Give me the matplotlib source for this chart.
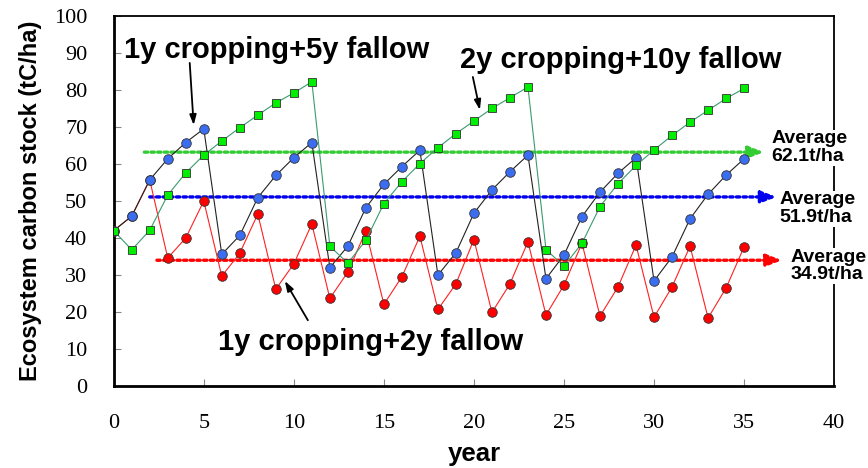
import matplotlib
matplotlib.use("Agg")
import matplotlib.pyplot as plt
import numpy as np

years = list(range(0, 36))

# 2y cropping + 10y fallow (green squares)
green_vals = [42.0, 36.8, 42.1, 51.6, 57.6, 62.4, 66.2, 69.8, 73.2, 76.5, 79.2, 82.2,
              37.8, 33.2, 39.4, 49.3, 55.2, 60.1, 64.4, 68.2, 71.6, 75.0, 77.9, 80.8,
              36.9, 32.4, 38.6, 48.5, 54.7, 59.6, 63.8, 67.7, 71.3, 74.5, 77.7, 80.4]

# 1y cropping + 5y fallow (blue circles)
blue_vals = [42.0, 45.9, 55.7, 61.4, 65.8, 69.5, 35.6, 40.7, 50.9, 56.9, 61.7, 65.8,
             32.0, 37.8, 48.2, 54.5, 59.3, 63.7, 30.0, 36.0, 46.7, 53.0, 57.9, 62.4,
             29.0, 35.4, 45.8, 52.4, 57.5, 61.7, 28.4, 34.9, 45.2, 51.8, 57.0, 61.4]

# 1y cropping + 2y fallow (red circles)
red_vals = [42.0, 45.9, 55.7, 34.6, 40.0, 50.0, 29.7, 35.9, 46.5, 26.2, 33.0, 43.8,
            23.7, 30.8, 41.9, 22.1, 29.5, 40.5, 20.7, 27.6, 39.6, 19.9, 27.6, 39.0,
            19.2, 27.3, 38.6, 18.9, 26.8, 38.1, 18.6, 26.8, 37.8, 18.4, 26.5, 37.6]

avg_levels = [63.2, 51.1, 34.0]          # drawn positions of the dotted average lines
avg_starts = [1.7, 2.0, 2.4]
avg_ends = [36.1, 36.8, 37.1]
avg_colors = ["#33cc33", "#0000ee", "#ff0000"]
avg_texts = ["Average\n62.1t/ha", "Average\n51.9t/ha", "Average\n34.9t/ha"]

scenario_texts = ["1y cropping+5y fallow", "2y cropping+10y fallow", "1y cropping+2y fallow"]

xticks = [0, 5, 10, 15, 20, 25, 30, 35, 40]
yticks = [0, 10, 20, 30, 40, 50, 60, 70, 80, 90, 100]

SANS = ["Liberation Sans", "DejaVu Sans"]
SERIF = ["Liberation Serif", "DejaVu Serif"]

fig = plt.figure(figsize=(8.68, 4.68), dpi=100)
ax = fig.add_axes([0.131, 0.175, 0.830, 0.791])

ax.plot(years, red_vals, color="#ff2020", lw=0.8, marker="o", ms=6.9,
        mfc="#ff0000", mec="#333333", mew=0.6, zorder=3)
ax.plot(years, blue_vals, color="#222222", lw=0.8, marker="o", ms=6.9,
        mfc="#3a6df0", mec="#333333", mew=0.6, zorder=4)
ax.plot(years, green_vals, color="#3a9a70", lw=0.8, marker="s", ms=6.4,
        mfc="#00ee00", mec="#333333", mew=0.6, zorder=5)

for lvl, x0, x1, c in zip(avg_levels, avg_starts, avg_ends, avg_colors):
    ax.annotate("", xy=(x1, lvl), xytext=(x0, lvl),
                arrowprops=dict(arrowstyle="-|>,head_length=0.9,head_width=0.35",
                                color=c, lw=2.4, linestyle=(0, (1, 1)),
                                shrinkA=0, shrinkB=0),
                zorder=2)

# Average labels
label_pos = [(36.5, 64.4), (36.95, 47.9), (37.55, 32.4)]
for (x, y), t in zip(label_pos, avg_texts):
    ax.text(x, y, t, fontsize=14, fontweight="bold", family=SANS,
            ha="left", va="center", linespacing=1.05, clip_on=False,
            bbox=dict(facecolor="white", edgecolor="none", pad=0.5), zorder=6)

# Scenario annotations (text + arrow)
text_pos = [(9.03, 88.6), (28.14, 85.9), (14.28, 9.7)]
arrow_from = [(4.22, 87.3), (19.94, 83.5), (10.78, 17.8)]
arrow_to = [(4.44, 70.5), (20.33, 74.6), (9.5, 28.4)]
for (tx, ty), t in zip(text_pos, scenario_texts):
    ax.text(tx, ty, t, fontsize=21, fontweight="bold", family=SANS,
            ha="center", va="baseline", zorder=7)
for p0, p1 in zip(arrow_from, arrow_to):
    ax.annotate("", xy=p1, xytext=p0,
                arrowprops=dict(arrowstyle="-|>,head_length=0.6,head_width=0.2",
                                color="black", lw=1.3, shrinkA=0, shrinkB=0),
                zorder=7)

ax.set_xlim(0, 40)
ax.set_ylim(0, 100)
ax.set_xticks(xticks)
ax.set_yticks(yticks)
ax.set_xticklabels([str(v) for v in xticks], family=SERIF, fontsize=16)
ax.set_yticklabels([str(v) for v in yticks], family=SERIF, fontsize=16)
ax.tick_params(axis="both", direction="in", length=5, width=0.8, color="#888888")
ax.tick_params(axis="y", pad=19)
ax.tick_params(axis="x", pad=20)

for s in ["left", "bottom"]:
    ax.spines[s].set_linewidth(2.0)
for s in ["top", "right"]:
    ax.spines[s].set_linewidth(1.3)

ax.set_xlabel("year", fontsize=18.5, fontweight="bold", family=SANS)
ax.xaxis.set_label_coords(0.5, -0.152)
ax.set_ylabel("Ecosystem carbon stock (tC/ha)", fontsize=17, fontweight="bold",
              family=SANS)
ax.yaxis.set_label_coords(-0.099, 0.5)

fig.savefig("out.png", dpi=100)
